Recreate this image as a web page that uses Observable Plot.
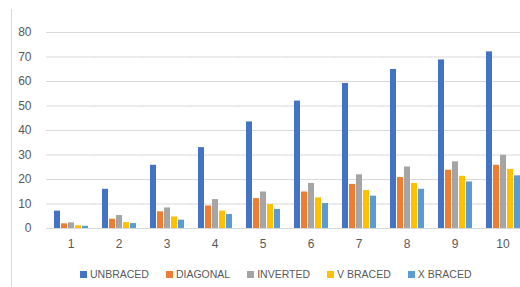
<!DOCTYPE html>
<html><head><meta charset="utf-8">
<script src="https://cdn.jsdelivr.net/npm/d3@7"></script>
<script src="https://cdn.jsdelivr.net/npm/@observablehq/plot@0.6"></script>
<style>
body{margin:0;background:#fff;}
#wrap{position:relative;width:520px;height:287px;overflow:hidden;font-family:"Liberation Sans",Arial,sans-serif;background:#fff;}
#frame{position:absolute;left:11px;top:9px;bottom:0;width:0;border-left:1px solid #d9d9d9;}
#chart{position:absolute;left:0;top:0;}
#legend{position:absolute;top:268px;left:80px;display:flex;gap:17px;font-size:10.5px;color:#595959;white-space:nowrap;}
#legend .it{display:flex;align-items:center;gap:3px;}
#legend .sw{width:7px;height:7px;display:inline-block;}
</style></head>
<body><div id="wrap"><div id="frame"></div><div id="chart"></div><div id="legend"></div></div>
<script>
const categories = [1,2,3,4,5,6,7,8,9,10];
const seriesNames = ["UNBRACED","DIAGONAL","INVERTED","V BRACED","X BRACED"];
const colors = ["#4472C4","#ED7D31","#A5A5A5","#FFC000","#5B9BD5"];
const unbraced = [7.1,16.0,25.8,33.0,43.5,52.0,59.2,64.9,68.8,72.1];
const diagonal = [1.9,3.8,6.8,9.2,12.2,14.9,18.0,20.8,23.8,25.8];
const inverted = [2.3,5.3,8.4,11.8,14.9,18.4,21.9,25.1,27.2,29.9];
const vbraced = [1.1,2.4,4.7,7.1,9.8,12.5,15.5,18.4,21.3,24.1];
const xbraced = [0.9,2.0,3.4,5.7,7.8,10.2,13.2,16.0,19.0,21.5];
const yTicks = [0,10,20,30,40,50,60,70,80];

const seriesValues = [unbraced, diagonal, inverted, vbraced, xbraced];
const data = [];
categories.forEach((c, i) => seriesNames.forEach((s, j) => data.push({cat: c, series: s, value: seriesValues[j][i]})));

function build(superOK) {
  const grid = superOK
    ? Plot.gridY(yTicks, {stroke: "#d9d9d9", strokeOpacity: 1, facet: "super"})
    : Plot.ruleY(yTicks, {stroke: "#d9d9d9", strokeOpacity: 1, insetLeft: -6, insetRight: -6});
  return Plot.plot({
    width: 520, height: 260,
    marginLeft: 45, marginRight: -7, marginTop: 32, marginBottom: 32,
    style: {fontFamily: '"Liberation Sans", Arial, sans-serif', fontSize: "12px", color: "#595959", background: "transparent"},
    fx: {domain: categories, paddingInner: 0.234, paddingOuter: 0.117, label: null},
    x: {domain: seriesNames, paddingInner: 0.19, paddingOuter: 0.1, axis: null},
    y: {domain: [0, 80], label: null},
    color: {domain: seriesNames, range: colors},
    marks: [
      grid,
      Plot.barY(data, {fx: "cat", x: "series", y: "value", fill: "series"}),
      Plot.axisY({ticks: yTicks, tickSize: 0, tickPadding: 21, label: null, fill: "#595959", fontSize: 12}),
      Plot.axisFx({anchor: "bottom", tickSize: 0, tickPadding: 11, label: null, fill: "#595959", fontSize: 12})
    ]
  });
}
let chart;
try { chart = build(true); } catch (e) { chart = build(false); }
document.getElementById("chart").appendChild(chart);

const legend = document.getElementById("legend");
seriesNames.forEach((s, j) => {
  const it = document.createElement("div"); it.className = "it";
  const sw = document.createElement("span"); sw.className = "sw"; sw.style.background = colors[j];
  const tx = document.createElement("span"); tx.textContent = s;
  it.appendChild(sw); it.appendChild(tx); legend.appendChild(it);
});
</script></body></html>
